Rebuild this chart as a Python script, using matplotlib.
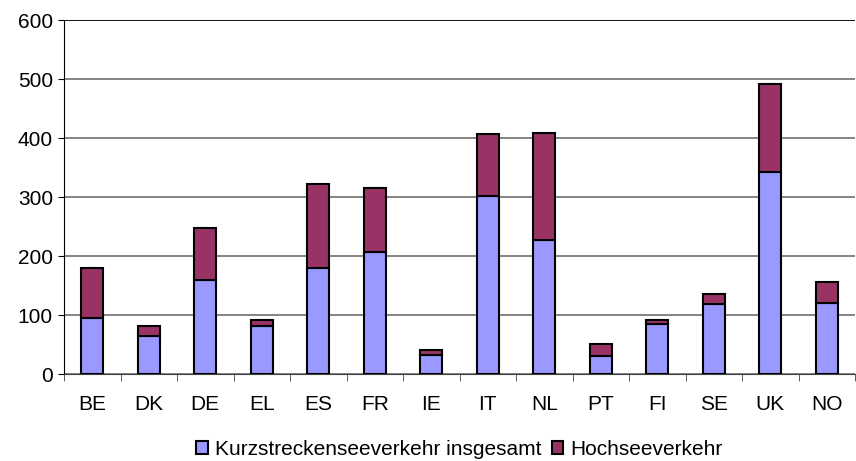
import matplotlib.pyplot as plt
import numpy as np
from matplotlib.ticker import FixedLocator

plt.rcParams['font.family'] = ['Liberation Sans', 'DejaVu Sans']

laender = ['BE', 'DK', 'DE', 'EL', 'ES', 'FR', 'IE', 'IT', 'NL', 'PT', 'FI', 'SE', 'UK', 'NO']
kurzstrecke = [95, 64, 159, 81, 180, 206, 33, 301, 227, 30, 85, 119, 342, 121]
gesamt = [180, 81, 247, 91, 322, 315, 40, 406, 409, 51, 92, 136, 491, 156]
hochsee = [g - k for g, k in zip(gesamt, kurzstrecke)]

fig = plt.figure(figsize=(8.56, 4.61), dpi=100)
ax = fig.add_axes([0.0748, 0.1887, 0.9242, 0.7679])

x = np.arange(len(laender))
ax.bar(x, kurzstrecke, width=0.39, color='#9999FF', edgecolor='black', linewidth=1.5,
       label='Kurzstreckenseeverkehr insgesamt', zorder=3)
ax.bar(x, hochsee, bottom=kurzstrecke, width=0.39, color='#993366', edgecolor='black',
       linewidth=1.5, label='Hochseeverkehr', zorder=3)

ax.set_xlim(-0.5, len(laender) - 0.5)
ax.set_ylim(0, 600)
ax.set_yticks(range(0, 601, 100))
ax.yaxis.grid(True, color='#707070', linewidth=1.2, zorder=0)

ax.set_xticks(x)
ax.set_xticklabels(laender)
ax.xaxis.set_minor_locator(FixedLocator(np.arange(-0.5, len(laender), 1)))
ax.tick_params(axis='x', which='major', length=0, pad=15, labelsize=15)
ax.tick_params(axis='x', which='minor', length=5, color='#404040', direction='out')
ax.tick_params(axis='y', length=4.5, labelsize=15, pad=3.5)

for s in ['top', 'right']:
    ax.spines[s].set_visible(False)
ax.spines['left'].set_color('black')
ax.spines['bottom'].set_color('#404040')
ax.axhline(600, color='black', linewidth=1.2, zorder=4)

ax.legend(loc='upper center', bbox_to_anchor=(0.5, -0.145), ncol=2, frameon=False,
          fontsize=15, handlelength=0.55, handleheight=0.55, handletextpad=0.35,
          columnspacing=0.5, borderpad=0.2)

plt.savefig('out.png')
